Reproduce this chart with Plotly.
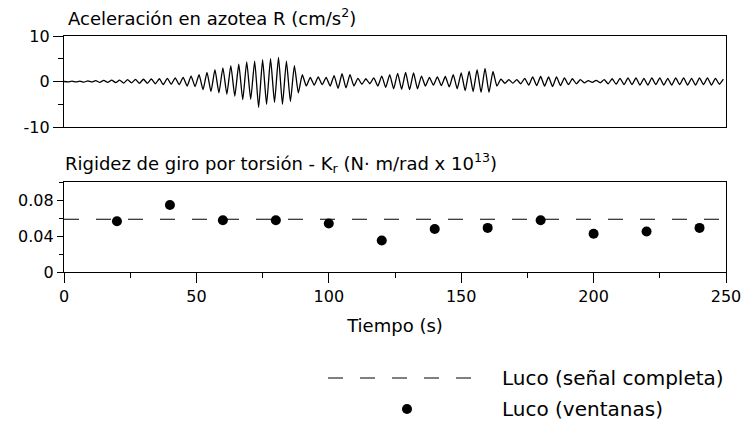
import plotly.graph_objects as go

# ---- Data: roof acceleration (extrema) ----
acc_time = [
    0.0, 1.5, 3.0, 4.5, 6.0, 7.5, 9.0, 10.5, 12.0, 13.5,
    15.0, 16.5, 18.0, 19.5, 21.0, 22.5, 24.0, 25.5, 27.0, 28.5,
    30.0, 31.5, 33.0, 34.5, 36.0, 37.5, 39.0, 40.5, 42.0, 43.5,
    45.0, 46.5, 48.0, 49.5, 51.0, 52.5, 54.0, 55.5, 57.0, 58.5,
    60.0, 61.5, 63.0, 64.5, 66.0, 67.5, 69.0, 70.5, 72.0, 73.5,
    75.0, 76.5, 78.0, 79.5, 81.0, 82.5, 84.0, 85.5, 87.0, 88.5,
    90.0, 91.5, 93.0, 94.5, 96.0, 97.5, 99.0, 100.5, 102.0, 103.5,
    105.0, 106.5, 108.0, 109.5, 111.0, 112.5, 114.0, 115.5, 117.0, 118.5,
    120.0, 121.5, 123.0, 124.5, 126.0, 127.5, 129.0, 130.5, 132.0, 133.5,
    135.0, 136.5, 138.0, 139.5, 141.0, 142.5, 144.0, 145.5, 147.0, 148.5,
    150.0, 151.5, 153.0, 154.5, 156.0, 157.5, 159.0, 160.5, 162.0, 163.5,
    165.0, 166.5, 168.0, 169.5, 171.0, 172.5, 174.0, 175.5, 177.0, 178.5,
    180.0, 181.5, 183.0, 184.5, 186.0, 187.5, 189.0, 190.5, 192.0, 193.5,
    195.0, 196.5, 198.0, 199.5, 201.0, 202.5, 204.0, 205.5, 207.0, 208.5,
    210.0, 211.5, 213.0, 214.5, 216.0, 217.5, 219.0, 220.5, 222.0, 223.5,
    225.0, 226.5, 228.0, 229.5, 231.0, 232.5, 234.0, 235.5, 237.0, 238.5,
    240.0, 241.5, 243.0, 244.5, 246.0, 247.5, 249.0,
]
acc_value = [
    0.0, -0.1, 0.1, -0.1, 0.1, -0.15, 0.15, -0.1, 0.2, -0.2,
    0.25, -0.2, 0.3, -0.25, 0.3, -0.35, 0.4, -0.3, 0.45, -0.4,
    0.5, -0.4, 0.55, -0.5, 0.6, -0.7, 0.7, -0.6, 0.8, -0.7,
    0.9, -1.0, 1.2, -1.1, 1.5, -1.8, 2.0, -2.2, 2.6, -2.5,
    3.0, -2.8, 3.5, -3.2, 3.8, -4.0, 4.3, -3.9, 4.5, -5.7,
    4.8, -5.0, 5.0, -4.6, 5.3, -5.0, 4.5, -4.4, 3.5, -2.5,
    1.5, -1.0, 0.9, -0.8, 1.0, -0.7, 0.9, -1.0, 1.3, -1.5,
    1.7, -1.4, 1.5, -1.0, 0.7, -0.6, 0.6, -0.5, 0.8, -1.0,
    1.2, -1.3, 1.5, -1.6, 1.8, -1.7, 2.0, -1.8, 1.9, -1.6,
    1.2, -1.0, 0.9, -0.8, 1.0, -0.9, 1.1, -1.2, 1.5, -1.6,
    1.9, -2.0, 2.3, -2.2, 2.6, -2.4, 2.9, -2.4, 2.2, -1.0,
    0.5, -0.4, 0.4, -0.35, 0.4, -0.5, 0.7, -0.8, 1.0, -0.9,
    1.1, -1.0, 1.0, -1.1, 1.0, -0.9, 0.8, -0.7, 0.6, -0.5,
    0.4, -0.3, 0.2, -0.2, 0.25, -0.3, 0.4, -0.5, 0.6, -0.6,
    0.7, -0.7, 0.8, -0.7, 0.8, -0.8, 0.7, -0.8, 0.8, -0.7,
    0.8, -0.8, 0.7, -0.8, 0.8, -0.7, 0.8, -0.8, 0.7, -0.8,
    0.8, -0.7, 0.8, -0.8, 0.7, -0.6, 0.5,
]

# ---- Data: torsional stiffness ----
win_time = [20, 40, 60, 80, 100, 120, 140, 160, 180, 200, 220, 240]
win_kr = [0.0564, 0.0744, 0.0575, 0.0575, 0.0538, 0.0350, 0.0478, 0.0490,
          0.0575, 0.0425, 0.0450, 0.0490]
full_kr = 0.0586
full_span = [0, 250]

x_ticks = [0, 50, 100, 150, 200, 250]
acc_ticks = [-10, 0, 10]
acc_ticklabels = ["-10", "0", "10"]
kr_ticks = [0, 0.04, 0.08]
kr_ticklabels = ["0", "0.04", "0.08"]

FONT = "DejaVu Sans"
W, H = 743, 421
L, R, T, B = 64, 17, 36, 149

fig = go.Figure()

fig.add_trace(go.Scatter(
    x=acc_time, y=acc_value, mode="lines",
    line=dict(color="black", width=1.3, shape="spline", smoothing=0.5),
    xaxis="x", yaxis="y", showlegend=False, hoverinfo="skip"))

fig.add_trace(go.Scatter(
    x=full_span, y=[full_kr, full_kr], mode="lines",
    line=dict(color="black", width=1, dash="15px,17px"),
    xaxis="x2", yaxis="y2", showlegend=False))

fig.add_trace(go.Scatter(
    x=win_time, y=win_kr, mode="markers",
    marker=dict(color="black", size=10),
    xaxis="x2", yaxis="y2", showlegend=False))

plot_h = H - T - B
plot_w = W - L - R
top_dom = [(H - B - 127) / plot_h, 1.0]
bot_dom = [0.0, (H - B - 182) / plot_h]

axis_common = dict(showgrid=False, zeroline=False, showline=True,
                   linecolor="black", linewidth=1.3, mirror=True,
                   automargin=False, tickfont=dict(size=16))

fig.update_layout(
    width=W, height=H, autosize=False,
    margin=dict(l=L, r=R, t=T, b=B, autoexpand=False),
    paper_bgcolor="white", plot_bgcolor="white",
    font=dict(family=FONT, size=16, color="black"),
    xaxis=dict(domain=[0, 1], range=[0, 250], showticklabels=False,
               ticks="", anchor="y", **axis_common),
    yaxis=dict(domain=top_dom, range=[-10, 10], tickvals=acc_ticks,
               ticktext=acc_ticklabels,
               ticks="outside", ticklen=10, tickwidth=1, tickcolor="black",
               minor=dict(tickvals=[-5, 5], ticks="outside", ticklen=5,
                          tickcolor="black", tickwidth=1),
               anchor="x", **axis_common),
    xaxis2=dict(domain=[0, 1], range=[0, 250], tickvals=x_ticks,
                ticks="outside", ticklen=10, tickwidth=1, tickcolor="black",
                minor=dict(tickvals=[25, 75, 125, 175, 225], ticks="outside",
                           ticklen=5, tickcolor="black", tickwidth=1),
                title=dict(text="Tiempo (s)", standoff=14, font=dict(size=18)),
                anchor="y2", **axis_common),
    yaxis2=dict(domain=bot_dom, range=[0, 0.1], tickvals=kr_ticks,
                ticktext=kr_ticklabels,
                ticks="outside", ticklen=6, tickwidth=1, tickcolor="black",
                minor=dict(tickvals=[0.02, 0.06, 0.1], ticks="outside",
                           ticklen=4, tickcolor="black", tickwidth=1),
                anchor="x2", **axis_common),
)


def px(xp):
    return (xp - L) / plot_w


def py(yp):
    return (H - B - yp) / plot_h


# Panel titles
fig.add_annotation(text="Aceleración en azotea R (cm/s<sup>2</sup>)",
                   xref="paper", yref="paper", x=px(66), y=py(17),
                   xanchor="left", yanchor="middle",
                   showarrow=False, font=dict(size=18))
fig.add_annotation(text="Rigidez de giro por torsión - K<sub>r</sub> (N· m/rad x 10<sup>13</sup>)",
                   xref="paper", yref="paper", x=px(63), y=py(163),
                   xanchor="left", yanchor="middle",
                   showarrow=False, font=dict(size=18))

# Legend (drawn manually)
fig.add_shape(type="line", xref="paper", yref="paper",
              x0=px(328), x1=px(473), y0=py(378), y1=py(378),
              line=dict(color="black", width=1, dash="15px,17px"))
fig.add_shape(type="circle", xref="paper", yref="paper",
              x0=px(402), x1=px(412), y0=py(414), y1=py(404),
              fillcolor="black", line=dict(color="black", width=0))
fig.add_annotation(text="Luco (señal completa)", xref="paper", yref="paper",
                   x=px(500), y=py(378), xanchor="left", yanchor="middle",
                   showarrow=False, font=dict(size=20))
fig.add_annotation(text="Luco (ventanas)", xref="paper", yref="paper",
                   x=px(500), y=py(409), xanchor="left", yanchor="middle",
                   showarrow=False, font=dict(size=20))

fig.write_html("out.html",
               config={"displayModeBar": False, "responsive": False},
               post_script="document.body.style.margin='0';"
                           "document.body.style.overflow='hidden';")
